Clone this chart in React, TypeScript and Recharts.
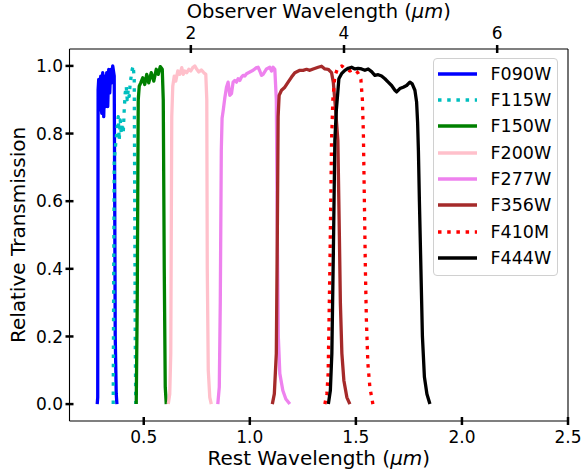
import React from "react";
import { LineChart, Line, XAxis, YAxis } from "recharts";

// observer wavelength = rest wavelength * (1 + z)
const redshiftFactor = 2.77;

const restTicks = [0.5, 1.0, 1.5, 2.0, 2.5];
const observerTicks = [2, 4, 6];
const transTicks = [0, 0.2, 0.4, 0.6, 0.8, 1.0];

// rest wavelength (um) / relative transmission
const f090wRest = [0.2807, 0.283, 0.284, 0.2849, 0.2877, 0.2925, 0.2972, 0.3019, 0.3066, 0.3113, 0.316, 0.3208, 0.3255, 0.3302, 0.3349, 0.3396, 0.3443, 0.3491, 0.3538, 0.3585, 0.3608, 0.3632, 0.3656, 0.3703, 0.3736];
const f090wTrans = [0, 0.02, 0.5, 0.93, 0.96, 0.87, 0.97, 0.86, 0.98, 0.85, 0.97, 0.88, 0.98, 0.88, 0.99, 0.92, 0.99, 0.95, 1.0, 0.98, 0.97, 0.6, 0.2, 0.03, 0];

const f115wRest = [0.3561, 0.3585, 0.3608, 0.3679, 0.375, 0.3797, 0.3844, 0.3892, 0.3939, 0.3986, 0.4033, 0.408, 0.4127, 0.4175, 0.4222, 0.4269, 0.4316, 0.4363, 0.441, 0.4458, 0.4505, 0.4552, 0.4575, 0.4599, 0.4623];
const f115wTrans = [0, 0.4, 0.72, 0.77, 0.82, 0.85, 0.78, 0.84, 0.8, 0.83, 0.8, 0.87, 0.92, 0.94, 0.9, 0.93, 0.91, 0.95, 0.97, 0.99, 1.0, 0.96, 0.6, 0.2, 0];

const f150wRest = [0.4646, 0.4693, 0.4741, 0.4788, 0.4858, 0.4953, 0.5047, 0.5142, 0.5236, 0.5354, 0.5472, 0.559, 0.5684, 0.5778, 0.5873, 0.592, 0.5967, 0.6014, 0.6061];
const f150wTrans = [0, 0.3, 0.9, 0.94, 0.95, 0.965, 0.945, 0.975, 0.95, 0.98, 0.955, 0.99, 0.975, 0.998, 0.99, 0.9, 0.4, 0.05, 0];

const f200wRest = [0.6156, 0.6226, 0.6274, 0.6321, 0.6368, 0.6439, 0.6509, 0.6604, 0.6698, 0.6792, 0.6863, 0.6934, 0.7028, 0.7123, 0.7217, 0.7311, 0.7406, 0.75, 0.7594, 0.7712, 0.783, 0.7925, 0.7972, 0.7995, 0.8042, 0.8113, 0.8184];
const f200wTrans = [0, 0.03, 0.15, 0.85, 0.94, 0.97, 0.955, 0.985, 0.975, 0.995, 0.975, 0.985, 0.98, 0.99, 0.985, 0.995, 1.0, 0.99, 0.982, 0.988, 0.98, 0.975, 0.9, 0.4, 0.1, 0.02, 0];

const f277wRest = [0.8491, 0.8561, 0.8608, 0.8656, 0.8693, 0.875, 0.8821, 0.8901, 0.8976, 0.9057, 0.9137, 0.9212, 0.9292, 0.9373, 0.9448, 0.9528, 0.9608, 0.9684, 0.9764, 0.9844, 1.0, 1.0156, 1.0316, 1.0392, 1.0472, 1.0552, 1.0627, 1.0788, 1.0943, 1.1024, 1.1099, 1.1179, 1.125, 1.1297, 1.1344, 1.1415, 1.1557, 1.1698, 1.1887];
const f277wTrans = [0, 0.05, 0.3, 0.75, 0.845, 0.87, 0.905, 0.937, 0.952, 0.913, 0.918, 0.952, 0.957, 0.952, 0.962, 0.957, 0.967, 0.972, 0.97, 0.977, 0.982, 0.987, 0.995, 0.996, 0.985, 0.972, 0.975, 0.991, 0.996, 0.985, 0.996, 0.99, 0.9, 0.5, 0.2, 0.09, 0.04, 0.015, 0];

const f356wRest = [1.1061, 1.1156, 1.125, 1.1297, 1.1335, 1.1382, 1.1495, 1.1651, 1.1807, 1.1967, 1.2123, 1.2358, 1.2514, 1.2675, 1.283, 1.2986, 1.3222, 1.3382, 1.3538, 1.3693, 1.3854, 1.3939, 1.4033, 1.4151, 1.4222, 1.4269, 1.434, 1.4434, 1.4575, 1.4717];
const f356wTrans = [0, 0.03, 0.15, 0.5, 0.85, 0.913, 0.928, 0.937, 0.952, 0.967, 0.98, 0.987, 0.987, 0.99, 0.987, 0.991, 0.996, 0.999, 0.991, 0.99, 0.98, 0.95, 0.88, 0.78, 0.5, 0.3, 0.15, 0.07, 0.02, 0];

const f410mRest = [1.3538, 1.3632, 1.3693, 1.3774, 1.3854, 1.3915, 1.4009, 1.4151, 1.434, 1.4528, 1.4717, 1.4906, 1.5094, 1.5236, 1.5307, 1.5354, 1.5401, 1.5448, 1.5495, 1.5566, 1.566, 1.5802];
const f410mTrans = [0, 0.03, 0.09, 0.4, 0.78, 0.9, 0.97, 0.995, 1.0, 0.99, 0.985, 0.99, 0.98, 0.96, 0.9, 0.8, 0.6, 0.4, 0.25, 0.12, 0.05, 0];

const f444wRest = [1.3703, 1.3797, 1.3868, 1.3939, 1.4009, 1.408, 1.4137, 1.4198, 1.4325, 1.4481, 1.4637, 1.4797, 1.4953, 1.5108, 1.5269, 1.5425, 1.558, 1.5741, 1.5896, 1.6052, 1.6212, 1.6368, 1.6524, 1.6684, 1.684, 1.692, 1.7075, 1.7231, 1.7392, 1.7547, 1.7656, 1.7783, 1.7863, 1.791, 1.7948, 1.7995, 1.8066, 1.8137, 1.8231, 1.8349, 1.8491];
const f444wTrans = [0, 0.04, 0.15, 0.45, 0.78, 0.87, 0.913, 0.962, 0.977, 0.987, 0.993, 0.996, 0.991, 0.993, 0.991, 0.987, 0.991, 0.983, 0.972, 0.974, 0.97, 0.962, 0.952, 0.942, 0.928, 0.923, 0.933, 0.937, 0.942, 0.952, 0.947, 0.928, 0.893, 0.834, 0.75, 0.6, 0.4, 0.2, 0.08, 0.03, 0];

const zip = (w: number[], t: number[]) => w.map((v, i) => ({ w: v, t: t[i] }));

const filters = [
  { name: "F090W", color: "#0000ff", dotted: false, data: zip(f090wRest, f090wTrans) },
  { name: "F115W", color: "#00bfbf", dotted: true, data: zip(f115wRest, f115wTrans) },
  { name: "F150W", color: "#008000", dotted: false, data: zip(f150wRest, f150wTrans) },
  { name: "F200W", color: "#ffc0cb", dotted: false, data: zip(f200wRest, f200wTrans) },
  { name: "F277W", color: "#ee82ee", dotted: false, data: zip(f277wRest, f277wTrans) },
  { name: "F356W", color: "#a52a2a", dotted: false, data: zip(f356wRest, f356wTrans) },
  { name: "F410M", color: "#ff0000", dotted: true, data: zip(f410mRest, f410mTrans) },
  { name: "F444W", color: "#000000", dotted: false, data: zip(f444wRest, f444wTrans) },
];

// same curves in the observer frame, only so the top axis has data behind it
const observerData = filters.flatMap((f) => f.data.map((p) => ({ obs: p.w * redshiftFactor, t: p.t })));

const FONT = "DejaVu Sans, Verdana, sans-serif";
const DOTS = "3.5 5.7";

const BottomTick = ({ x, y, payload }: any) => (
  <g>
    <line x1={x} x2={x} y1={y - 4} y2={y + 4} stroke="#000" strokeWidth={2.5} />
    <text x={x} y={y + 22} textAnchor="middle" fontSize={17} fontFamily={FONT} fill="#000">
      {payload.value.toFixed(1)}
    </text>
  </g>
);

const TopTick = ({ x, y, payload }: any) => (
  <g>
    <line x1={x} x2={x} y1={y - 4} y2={y + 4} stroke="#000" strokeWidth={2.5} />
    <text x={x} y={y - 10.3} textAnchor="middle" fontSize={17} fontFamily={FONT} fill="#000">
      {payload.value}
    </text>
  </g>
);

const LeftTick = ({ x, y, payload }: any) => (
  <g>
    <line x1={x - 4} x2={x + 4} y1={y} y2={y} stroke="#000" strokeWidth={2.5} />
    <text x={x - 6.5} y={y} dy="0.36em" textAnchor="end" fontSize={17} fontFamily={FONT} fill="#000">
      {payload.value.toFixed(1)}
    </text>
  </g>
);

const Legendbox = () => (
  <div
    style={{
      position: "absolute",
      left: 433,
      top: 58,
      width: 125,
      height: 218,
      boxSizing: "border-box",
      border: "1px solid #d0d0d0",
      borderRadius: 4,
      background: "rgba(255,255,255,0.8)",
      fontFamily: FONT,
      fontSize: 17.5,
    }}
  >
    {filters.map((f, i) => (
      <div key={f.name} style={{ position: "absolute", left: 0, top: 1.7 + i * 26.3, height: 26, width: 123 }}>
        <svg width={45} height={26} style={{ position: "absolute", left: 4, top: 0 }}>
          <line
            x1={0}
            x2={39}
            y1={13}
            y2={13}
            stroke={f.color}
            strokeWidth={3.3}
            strokeDasharray={f.dotted ? DOTS : undefined}
          />
        </svg>
        <span style={{ position: "absolute", left: 56.5, top: 0, lineHeight: "26px", color: "#000" }}>{f.name}</span>
      </div>
    ))}
  </div>
);

export default function App() {
  return (
    <div style={{ position: "absolute", left: 0, top: 0, width: 583, height: 472, background: "#fff" }}>
      <LineChart width={583} height={472} margin={{ top: 48, right: 14, bottom: 50, left: 68.5 }}>
        <XAxis
          xAxisId="bottom"
          dataKey="w"
          type="number"
          domain={[0.15, 2.5]}
          ticks={restTicks}
          allowDataOverflow
          height={1}
          tickSize={0}
          tickMargin={0}
          tickLine={false}
          tick={<BottomTick />}
          axisLine={{ stroke: "#000", strokeWidth: 1.1 }}
        />
        <XAxis
          xAxisId="top"
          orientation="top"
          dataKey="obs"
          type="number"
          domain={[0.15 * redshiftFactor, 2.5 * redshiftFactor]}
          ticks={observerTicks}
          allowDataOverflow
          includeHidden
          interval={0}
          height={1}
          tickSize={0}
          tickMargin={0}
          tickLine={false}
          tick={<TopTick />}
          axisLine={{ stroke: "#000", strokeWidth: 1.1 }}
        />
        <YAxis
          yAxisId="left"
          type="number"
          domain={[-0.05, 1.05]}
          ticks={transTicks}
          allowDataOverflow
          width={1}
          tickSize={0}
          tickMargin={0}
          tickLine={false}
          tick={<LeftTick />}
          axisLine={{ stroke: "#000", strokeWidth: 1.1 }}
        />
        <YAxis
          yAxisId="right"
          orientation="right"
          type="number"
          domain={[0, 1]}
          width={1}
          tick={false}
          tickLine={false}
          axisLine={{ stroke: "#000", strokeWidth: 1.1 }}
        />
        <Line
          data={observerData}
          dataKey="t"
          xAxisId="top"
          yAxisId="left"
          hide
          dot={false}
          activeDot={false}
          isAnimationActive={false}
        />
        {filters.map((f) => (
          <Line
            key={f.name}
            data={f.data}
            dataKey="t"
            xAxisId="bottom"
            yAxisId="left"
            type="linear"
            stroke={f.color}
            strokeWidth={3.3}
            strokeDasharray={f.dotted ? DOTS : undefined}
            strokeLinejoin="round"
            dot={false}
            activeDot={false}
            isAnimationActive={false}
          />
        ))}
        <text x={318.8} y={465} textAnchor="middle" fontSize={20} fontFamily={FONT} fill="#000">
          Rest Wavelength (<tspan fontStyle="italic">μm</tspan>)
        </text>
        <text x={318.8} y={18.2} textAnchor="middle" fontSize={19.5} fontFamily={FONT} fill="#000">
          Observer Wavelength (<tspan fontStyle="italic">μm</tspan>)
        </text>
        <text
          x={0}
          y={0}
          transform="translate(24.5, 235) rotate(-90)"
          textAnchor="middle"
          fontSize={20}
          fontFamily={FONT}
          fill="#000"
        >
          Relative Transmission
        </text>
      </LineChart>
      <Legendbox />
    </div>
  );
}
